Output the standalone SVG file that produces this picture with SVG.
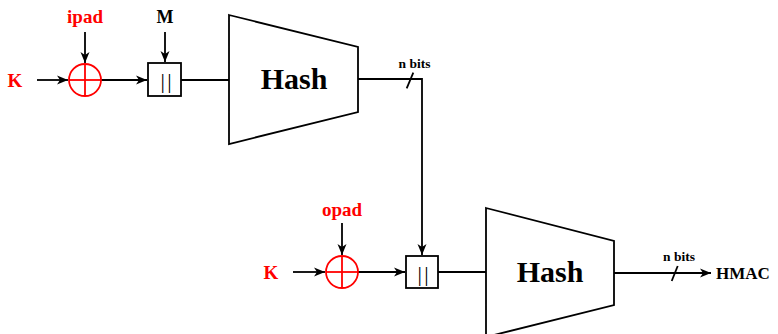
<svg xmlns="http://www.w3.org/2000/svg" width="778" height="334" viewBox="0 0 778 334">
  <style>
    .ln { stroke: #000; stroke-width: 1.8; fill: none; }
    .box { stroke: #000; stroke-width: 1.8; fill: #fff; }
    .xor { stroke: #ff0000; stroke-width: 1.8; fill: none; }
    .red { fill: #ff0000; font-family: "Liberation Serif", serif; font-weight: bold; font-size: 19px; text-anchor: middle; }
    .blk { fill: #000; font-family: "Liberation Serif", serif; font-weight: bold; font-size: 18px; text-anchor: middle; }
    .hash { fill: #000; font-family: "Liberation Serif", serif; font-weight: bold; font-size: 30px; text-anchor: middle; }
    .bits { fill: #000; font-family: "Liberation Serif", serif; font-weight: bold; font-size: 13.5px; text-anchor: middle; }
    .cc { fill: #000; font-family: "Liberation Serif", serif; font-size: 22px; letter-spacing: 2.2px; text-anchor: middle; }
  </style>
  <defs>
    <marker id="arr" markerUnits="userSpaceOnUse" markerWidth="12" markerHeight="10" refX="11" refY="5" orient="auto">
      <path d="M0,0.5 L11,5 L0,9.5 L3,5 z" fill="#000"/>
    </marker>
  </defs>
  <rect width="778" height="334" fill="#fff"/>

  <g id="connectors">
    <line class="ln" x1="37" y1="80" x2="68" y2="80" marker-end="url(#arr)"/>
    <line class="ln" x1="85" y1="32" x2="85" y2="63" marker-end="url(#arr)"/>
    <line class="ln" x1="101" y1="80" x2="147" y2="80" marker-end="url(#arr)"/>
    <line class="ln" x1="165" y1="32" x2="165" y2="62" marker-end="url(#arr)"/>
    <line class="ln" x1="181" y1="80" x2="229" y2="80"/>
    <polyline class="ln" points="358,79 422,79 422,255" marker-end="url(#arr)"/>
    <line class="ln" x1="406.7" y1="88.3" x2="413.3" y2="72.7"/>
    <line class="ln" x1="293" y1="272" x2="325" y2="272" marker-end="url(#arr)"/>
    <line class="ln" x1="342" y1="223" x2="342" y2="255" marker-end="url(#arr)"/>
    <line class="ln" x1="358" y1="272" x2="405" y2="272" marker-end="url(#arr)"/>
    <line class="ln" x1="438" y1="272" x2="486" y2="272"/>
    <line class="ln" x1="614" y1="273" x2="711" y2="273" marker-end="url(#arr)"/>
    <line class="ln" x1="671.7" y1="281" x2="677.7" y2="266"/>
  </g>

  <g id="K1"><text class="red" x="15" y="87">K</text></g>
  <g id="ipad"><text class="red" x="85" y="23">ipad</text></g>
  <g id="xor1">
    <circle class="xor" cx="85" cy="80" r="16"/>
    <line class="xor" x1="69" y1="80" x2="101" y2="80"/>
    <line class="xor" x1="85" y1="64" x2="85" y2="96"/>
  </g>
  <g id="M"><text class="blk" x="165" y="23">M</text></g>
  <g id="concat1">
    <rect class="box" x="148" y="63" width="33" height="33"/>
    <text class="cc" x="167.2" y="88">||</text>
  </g>
  <g id="hash1">
    <polygon class="box" points="229,15 358,47 358,112 229,144"/>
    <text class="hash" x="294" y="89">Hash</text>
  </g>
  <g id="nbits1"><text class="bits" x="414.5" y="68">n bits</text></g>

  <g id="K2"><text class="red" x="271" y="279">K</text></g>
  <g id="opad"><text class="red" x="342" y="216">opad</text></g>
  <g id="xor2">
    <circle class="xor" cx="342" cy="272" r="16"/>
    <line class="xor" x1="326" y1="272" x2="358" y2="272"/>
    <line class="xor" x1="342" y1="256" x2="342" y2="288"/>
  </g>
  <g id="concat2">
    <rect class="box" x="406" y="256" width="32" height="32"/>
    <text class="cc" x="424.2" y="281">||</text>
  </g>
  <g id="hash2">
    <polygon class="box" points="486,208 614,241 614,305 486,337"/>
    <text class="hash" x="550" y="282">Hash</text>
  </g>
  <g id="nbits2"><text class="bits" x="679" y="261">n bits</text></g>
  <g id="HMAC"><text class="blk" x="743" y="279" style="font-size:17px">HMAC</text></g>
</svg>
